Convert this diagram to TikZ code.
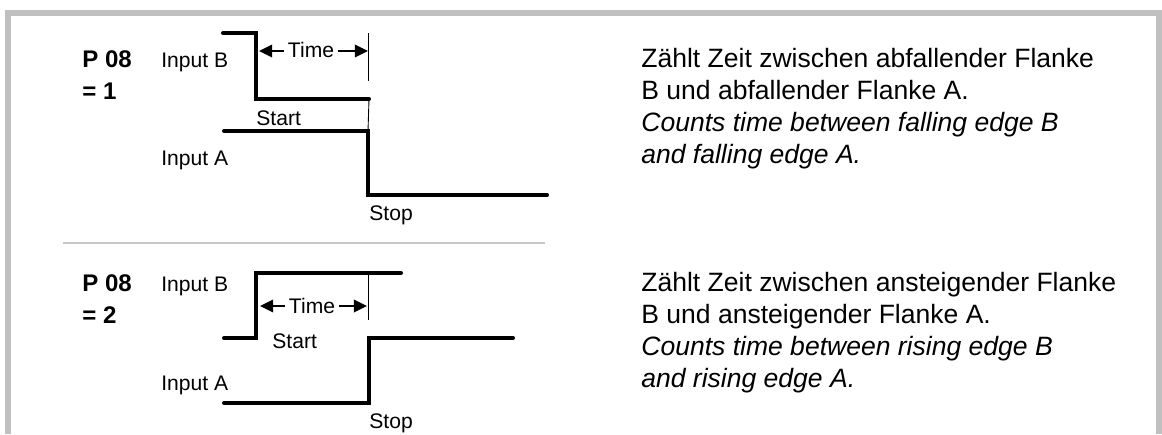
\documentclass[tikz,border=0pt]{standalone}
\usepackage{fontspec}
\setmainfont{Liberation Sans}
\usetikzlibrary{arrows.meta}

\definecolor{framegray}{HTML}{C0C0C0}
\definecolor{rulegray}{HTML}{C8C8C8}

\tikzset{
	wave/.style={line width=2.3pt, line cap=round, line join=miter},
	markline/.style={line width=0.5pt},
	timearrow/.style={line width=1.6pt, -{Triangle[length=7.5pt,width=7pt]}},
	framebar/.style={line width=3.4pt, draw=framegray, line join=miter},
	sigtext/.style={inner sep=0pt, anchor=base west, font=\fontsize{12}{14}\selectfont},
	partext/.style={inner sep=0pt, anchor=base west, align=left, font=\fontsize{13.7}{18.2}\selectfont\bfseries},
	desctext/.style={inner sep=0pt, anchor=base west, align=left, font=\fontsize{15.1}{18.2}\selectfont},
}

\begin{document}
\begin{tikzpicture}[x=0.02cm, y=-0.02cm]
		\useasboundingbox (0,0) rectangle (1162,434);
		\draw[framebar] (8,434) -- (8,13) -- (1159,13) -- (1159,434);
		\coordinate (R1) at (63,243);
		\coordinate (R2) at (545,243);
		\draw[rulegray, line width=1.2pt] (R1) -- (R2);

		% P 08 = 1
		\coordinate (B1a) at (223,33);
		\coordinate (B1b) at (256,33);
		\coordinate (B1c) at (256,99);
		\coordinate (B1d) at (369,99);
		\coordinate (A1a) at (224,131);
		\coordinate (A1b) at (368,131);
		\coordinate (A1c) at (368,195);
		\coordinate (A1d) at (547,195);
		\coordinate (M1a) at (368,33);
		\coordinate (M1b) at (368,81);
		\coordinate (T1l) at (259,51);
		\coordinate (T1r) at (368,51);
		\draw[wave] (B1a) -- (B1b) -- (B1c) -- (B1d);
		\draw[wave] (A1a) -- (A1b) -- (A1c) -- (A1d);
		\draw[markline] (M1a) -- (M1b);
		\draw[markline] (B1d) -- (A1b);

		% base anchor of a multi-line node sits on its last line
		\node[partext] (par1) at (82,99) {P 08\\= 1};
		\node[sigtext] (inB1) at (161,67) {Input B};
		\node[sigtext] (inA1) at (161,165) {Input A};
		\node[sigtext] (start1) at (256,125) {Start};
		\node[sigtext] (stop1) at (369,220) {Stop};
		\node[sigtext, anchor=base, inner xsep=2.2pt] (time1) at (311,57) {Time};
		\draw[timearrow] (time1.west |- T1l) -- (T1l);
		\draw[timearrow] (time1.east |- T1r) -- (T1r);
		\node[desctext] (desc1) at (641,163) {Zählt Zeit zwischen abfallender Flanke\\B und abfallender Flanke A.\\\textit{Counts time between falling edge B}\\\textit{and falling edge A.}};

		% P 08 = 2
		\coordinate (B2a) at (224,338);
		\coordinate (B2b) at (256,338);
		\coordinate (B2c) at (256,273);
		\coordinate (B2d) at (401,273);
		\coordinate (A2a) at (224,403);
		\coordinate (A2b) at (369,403);
		\coordinate (A2c) at (369,338);
		\coordinate (A2d) at (513,338);
		\coordinate (M2a) at (368,275);
		\coordinate (M2b) at (368,320);
		\coordinate (T2l) at (260,306);
		\coordinate (T2r) at (367,306);
		\draw[wave] (B2a) -- (B2b) -- (B2c) -- (B2d);
		\draw[wave] (A2a) -- (A2b) -- (A2c) -- (A2d);
		\draw[markline] (M2a) -- (M2b);

		\node[partext] (par2) at (82,323) {P 08\\= 2};
		\node[sigtext] (inB2) at (161,291) {Input B};
		\node[sigtext] (inA2) at (161,390) {Input A};
		\node[sigtext] (start2) at (272,348) {Start};
		\node[sigtext] (stop2) at (369,428) {Stop};
		\node[sigtext, anchor=base, inner xsep=2.2pt] (time2) at (312,313) {Time};
		\draw[timearrow] (time2.west |- T2l) -- (T2l);
		\draw[timearrow] (time2.east |- T2r) -- (T2r);
		\node[desctext] (desc2) at (641,387) {Zählt Zeit zwischen ansteigender Flanke\\B und ansteigender Flanke A.\\\textit{Counts time between rising edge B}\\\textit{and rising edge A.}};
	\end{tikzpicture}
\end{document}
